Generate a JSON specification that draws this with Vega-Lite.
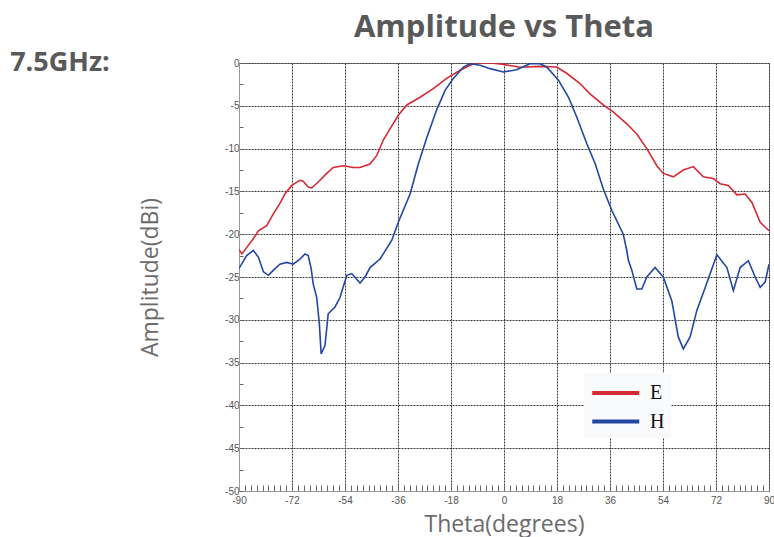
{
  "$schema": "https://vega.github.io/schema/vega-lite/v6.json",
  "autosize": {"type": "none"},
  "width": 530,
  "height": 428,
  "padding": {"left": 239, "top": 63, "right": 5, "bottom": 46},
  "background": "white",
  "title": {
    "text": "Amplitude vs Theta",
    "font": "Open Sans",
    "fontSize": 31,
    "fontWeight": "bold",
    "color": "#595959",
    "anchor": "middle",
    "frame": "group",
    "baseline": "alphabetic",
    "offset": -19
  },
  "config": {
    "view": {"stroke": "#a0a0a0"}
  },
  "datasets": {
    "curves": [
      {"theta": -90, "amp": -21.8, "series": "E"},
      {"theta": -89, "amp": -22.3, "series": "E"},
      {"theta": -87.5, "amp": -21.6, "series": "E"},
      {"theta": -85.1, "amp": -20.5, "series": "E"},
      {"theta": -83.4, "amp": -19.6, "series": "E"},
      {"theta": -80.6, "amp": -19.0, "series": "E"},
      {"theta": -78.3, "amp": -17.6, "series": "E"},
      {"theta": -76.1, "amp": -16.4, "series": "E"},
      {"theta": -74.4, "amp": -15.3, "series": "E"},
      {"theta": -72.1, "amp": -14.3, "series": "E"},
      {"theta": -69.3, "amp": -13.7, "series": "E"},
      {"theta": -68.2, "amp": -13.8, "series": "E"},
      {"theta": -66.5, "amp": -14.5, "series": "E"},
      {"theta": -65.3, "amp": -14.6, "series": "E"},
      {"theta": -63.1, "amp": -13.9, "series": "E"},
      {"theta": -60.2, "amp": -12.9, "series": "E"},
      {"theta": -58.0, "amp": -12.2, "series": "E"},
      {"theta": -54.6, "amp": -12.0, "series": "E"},
      {"theta": -51.2, "amp": -12.2, "series": "E"},
      {"theta": -48.9, "amp": -12.2, "series": "E"},
      {"theta": -45.5, "amp": -11.8, "series": "E"},
      {"theta": -43.2, "amp": -10.8, "series": "E"},
      {"theta": -41.0, "amp": -9.0, "series": "E"},
      {"theta": -38.7, "amp": -7.7, "series": "E"},
      {"theta": -35.9, "amp": -6.1, "series": "E"},
      {"theta": -33.0, "amp": -4.9, "series": "E"},
      {"theta": -28.5, "amp": -4.0, "series": "E"},
      {"theta": -24.0, "amp": -3.0, "series": "E"},
      {"theta": -19.5, "amp": -1.8, "series": "E"},
      {"theta": -14.9, "amp": -0.85, "series": "E"},
      {"theta": -11.5, "amp": -0.27, "series": "E"},
      {"theta": -9.3, "amp": 0, "series": "E"},
      {"theta": -4.7, "amp": 0, "series": "E"},
      {"theta": -1.3, "amp": -0.1, "series": "E"},
      {"theta": 2.0, "amp": -0.3, "series": "E"},
      {"theta": 5.4, "amp": -0.5, "series": "E"},
      {"theta": 12.2, "amp": -0.4, "series": "E"},
      {"theta": 17.9, "amp": -0.47, "series": "E"},
      {"theta": 21.3, "amp": -1.2, "series": "E"},
      {"theta": 25.8, "amp": -2.4, "series": "E"},
      {"theta": 29.2, "amp": -3.6, "series": "E"},
      {"theta": 33.7, "amp": -4.9, "series": "E"},
      {"theta": 37.1, "amp": -5.7, "series": "E"},
      {"theta": 41.7, "amp": -7.1, "series": "E"},
      {"theta": 45.1, "amp": -8.3, "series": "E"},
      {"theta": 48.5, "amp": -10.0, "series": "E"},
      {"theta": 51.9, "amp": -12.0, "series": "E"},
      {"theta": 54.1, "amp": -12.9, "series": "E"},
      {"theta": 57.5, "amp": -13.3, "series": "E"},
      {"theta": 60.9, "amp": -12.5, "series": "E"},
      {"theta": 64.3, "amp": -12.1, "series": "E"},
      {"theta": 67.7, "amp": -13.3, "series": "E"},
      {"theta": 71.1, "amp": -13.5, "series": "E"},
      {"theta": 73.4, "amp": -14.1, "series": "E"},
      {"theta": 76.2, "amp": -14.3, "series": "E"},
      {"theta": 79.1, "amp": -15.4, "series": "E"},
      {"theta": 81.9, "amp": -15.3, "series": "E"},
      {"theta": 84.2, "amp": -16.3, "series": "E"},
      {"theta": 87.0, "amp": -18.6, "series": "E"},
      {"theta": 90, "amp": -19.6, "series": "E"},
      {"theta": -90, "amp": -24.0, "series": "H"},
      {"theta": -87.4, "amp": -22.5, "series": "H"},
      {"theta": -85.1, "amp": -21.9, "series": "H"},
      {"theta": -83.4, "amp": -22.7, "series": "H"},
      {"theta": -81.7, "amp": -24.4, "series": "H"},
      {"theta": -80.0, "amp": -24.8, "series": "H"},
      {"theta": -78.3, "amp": -24.2, "series": "H"},
      {"theta": -76.1, "amp": -23.5, "series": "H"},
      {"theta": -73.8, "amp": -23.3, "series": "H"},
      {"theta": -71.6, "amp": -23.5, "series": "H"},
      {"theta": -69.3, "amp": -22.9, "series": "H"},
      {"theta": -67.6, "amp": -22.3, "series": "H"},
      {"theta": -66.5, "amp": -22.5, "series": "H"},
      {"theta": -65.5, "amp": -24.0, "series": "H"},
      {"theta": -64.8, "amp": -25.8, "series": "H"},
      {"theta": -63.6, "amp": -27.4, "series": "H"},
      {"theta": -62.7, "amp": -30.5, "series": "H"},
      {"theta": -62.1, "amp": -34.0, "series": "H"},
      {"theta": -60.8, "amp": -33.0, "series": "H"},
      {"theta": -59.7, "amp": -29.3, "series": "H"},
      {"theta": -57.4, "amp": -28.5, "series": "H"},
      {"theta": -55.7, "amp": -27.4, "series": "H"},
      {"theta": -53.4, "amp": -24.8, "series": "H"},
      {"theta": -51.7, "amp": -24.6, "series": "H"},
      {"theta": -48.9, "amp": -25.7, "series": "H"},
      {"theta": -47.2, "amp": -25.0, "series": "H"},
      {"theta": -45.5, "amp": -23.9, "series": "H"},
      {"theta": -42.1, "amp": -22.9, "series": "H"},
      {"theta": -41.0, "amp": -22.3, "series": "H"},
      {"theta": -38.1, "amp": -20.7, "series": "H"},
      {"theta": -35.9, "amp": -18.6, "series": "H"},
      {"theta": -31.9, "amp": -15.3, "series": "H"},
      {"theta": -29.1, "amp": -11.8, "series": "H"},
      {"theta": -26.2, "amp": -8.7, "series": "H"},
      {"theta": -22.9, "amp": -5.5, "series": "H"},
      {"theta": -20.0, "amp": -3.2, "series": "H"},
      {"theta": -17.2, "amp": -1.8, "series": "H"},
      {"theta": -13.8, "amp": -0.47, "series": "H"},
      {"theta": -11.5, "amp": -0.08, "series": "H"},
      {"theta": -8.1, "amp": -0.27, "series": "H"},
      {"theta": -4.7, "amp": -0.66, "series": "H"},
      {"theta": -0.2, "amp": -1.05, "series": "H"},
      {"theta": 4.3, "amp": -0.78, "series": "H"},
      {"theta": 8.8, "amp": -0.08, "series": "H"},
      {"theta": 12.2, "amp": -0.08, "series": "H"},
      {"theta": 14.5, "amp": -0.47, "series": "H"},
      {"theta": 18.5, "amp": -2.0, "series": "H"},
      {"theta": 21.9, "amp": -4.0, "series": "H"},
      {"theta": 24.7, "amp": -6.3, "series": "H"},
      {"theta": 28.1, "amp": -9.4, "series": "H"},
      {"theta": 31.0, "amp": -11.8, "series": "H"},
      {"theta": 33.7, "amp": -14.7, "series": "H"},
      {"theta": 36.6, "amp": -17.2, "series": "H"},
      {"theta": 40.5, "amp": -20.0, "series": "H"},
      {"theta": 41.7, "amp": -21.9, "series": "H"},
      {"theta": 42.2, "amp": -23.0, "series": "H"},
      {"theta": 43.4, "amp": -24.2, "series": "H"},
      {"theta": 45.1, "amp": -26.4, "series": "H"},
      {"theta": 46.8, "amp": -26.4, "series": "H"},
      {"theta": 48.5, "amp": -25.0, "series": "H"},
      {"theta": 51.3, "amp": -23.9, "series": "H"},
      {"theta": 54.1, "amp": -25.0, "series": "H"},
      {"theta": 57.0, "amp": -27.8, "series": "H"},
      {"theta": 59.2, "amp": -32.0, "series": "H"},
      {"theta": 60.9, "amp": -33.4, "series": "H"},
      {"theta": 63.2, "amp": -32.0, "series": "H"},
      {"theta": 65.5, "amp": -28.9, "series": "H"},
      {"theta": 68.8, "amp": -25.8, "series": "H"},
      {"theta": 72.3, "amp": -22.4, "series": "H"},
      {"theta": 75.7, "amp": -23.9, "series": "H"},
      {"theta": 77.9, "amp": -26.6, "series": "H"},
      {"theta": 80.2, "amp": -23.9, "series": "H"},
      {"theta": 83.0, "amp": -23.1, "series": "H"},
      {"theta": 85.3, "amp": -25.0, "series": "H"},
      {"theta": 87.0, "amp": -26.2, "series": "H"},
      {"theta": 88.7, "amp": -25.6, "series": "H"},
      {"theta": 90, "amp": -23.5, "series": "H"}
    ],
    "notes": [
      {"theta": -150.8, "amp": -0.9, "label": "7.5GHz:"}
    ]
  },
  "layer": [
    {
      "data": {"name": "curves"},
      "mark": {"type": "line", "strokeWidth": 1.6, "clip": true},
      "encoding": {
        "x": {
          "field": "theta",
          "type": "quantitative",
          "scale": {"domain": [-90, 90], "nice": false, "zero": false},
          "axis": {
            "title": "Theta(degrees)",
            "values": [-90,-88,-86,-84,-82,-80,-78,-76,-74,-72,-70,-68,-66,-64,-62,-60,-58,-56,-54,-52,-50,-48,-46,-44,-42,-40,-38,-36,-34,-32,-30,-28,-26,-24,-22,-20,-18,-16,-14,-12,-10,-8,-6,-4,-2,0,2,4,6,8,10,12,14,16,18,20,22,24,26,28,30,32,34,36,38,40,42,44,46,48,50,52,54,56,58,60,62,64,66,68,70,72,74,76,78,80,82,84,86,88,90],
            "tickCount": 200,
            "labelExpr": "datum.value % 18 === 0 ? '' + datum.value : ''",
            "labelOverlap": false,
            "labelBound": false,
            "labelFlush": false,
            "labelFont": "Liberation Sans",
            "labelFontSize": 10,
            "labelColor": "#555555",
            "labelPadding": 10,
            "tickSize": -6,
            "tickColor": "#666666",
            "tickWidth": 1,
            "domainColor": "#999999",
            "grid": true,
            "gridColor": "#3a3a3a",
            "gridDash": [2, 1],
            "gridWidth": 1,
            "gridOpacity": {"condition": {"test": "datum.value % 18 === 0", "value": 1}, "value": 0},
            "titleFont": "Open Sans",
            "titleFontSize": 23,
            "titleFontWeight": "normal",
            "titleColor": "#6b6b6b",
            "titlePadding": 8
          }
        },
        "y": {
          "field": "amp",
          "type": "quantitative",
          "scale": {"domain": [-50, 0], "nice": false, "zero": false},
          "axis": {
            "title": "Amplitude(dBi)",
            "values": [-50,-47.5,-45,-42.5,-40,-37.5,-35,-32.5,-30,-27.5,-25,-22.5,-20,-17.5,-15,-12.5,-10,-7.5,-5,-2.5,0],
            "tickCount": 100,
            "labelExpr": "datum.value % 5 === 0 ? '' + datum.value : ''",
            "labelOverlap": false,
            "labelBound": false,
            "labelFlush": false,
            "labelFont": "Liberation Sans",
            "labelFontSize": 10,
            "labelColor": "#555555",
            "labelPadding": 4,
            "tickSize": -4,
            "tickColor": "#666666",
            "domainColor": "#999999",
            "grid": true,
            "gridColor": "#3a3a3a",
            "gridDash": [2, 1],
            "gridWidth": 1,
            "gridOpacity": {"condition": {"test": "datum.value % 5 === 0", "value": 1}, "value": 0},
            "titleFont": "Open Sans",
            "titleFontSize": 23,
            "titleFontWeight": "normal",
            "titleColor": "#6b6b6b",
            "titlePadding": 62
          }
        },
        "color": {
          "field": "series",
          "type": "nominal",
          "scale": {"domain": ["E", "H"], "range": ["#d42a35", "#2346a3"]},
          "legend": {
            "title": null,
            "orient": "none",
            "legendX": 345,
            "legendY": 310,
            "symbolType": "M-1,0L3,0",
            "symbolSize": 552,
            "symbolStrokeWidth": 4,
            "rowPadding": 4.5,
            "labelFont": "Liberation Serif",
            "labelFontSize": 20,
            "labelColor": "#111111",
            "labelOffset": 32,
            "fillColor": "#f8fafc",
            "padding": 6,
            "encode": {
              "symbols": {"update": {"stroke": [{"test": "datum.value === 'E'", "value": "#b5737a"}, {"value": "#384457"}]}}
            }
          }
        }
      }
    },
    {
      "data": {"name": "notes"},
      "mark": {"type": "text", "font": "Open Sans", "fontSize": 27, "fontWeight": "bold", "color": "#595959", "align": "center", "baseline": "alphabetic", "clip": false},
      "encoding": {
        "x": {"field": "theta", "type": "quantitative"},
        "y": {"field": "amp", "type": "quantitative"},
        "text": {"field": "label"}
      }
    }
  ]
}
